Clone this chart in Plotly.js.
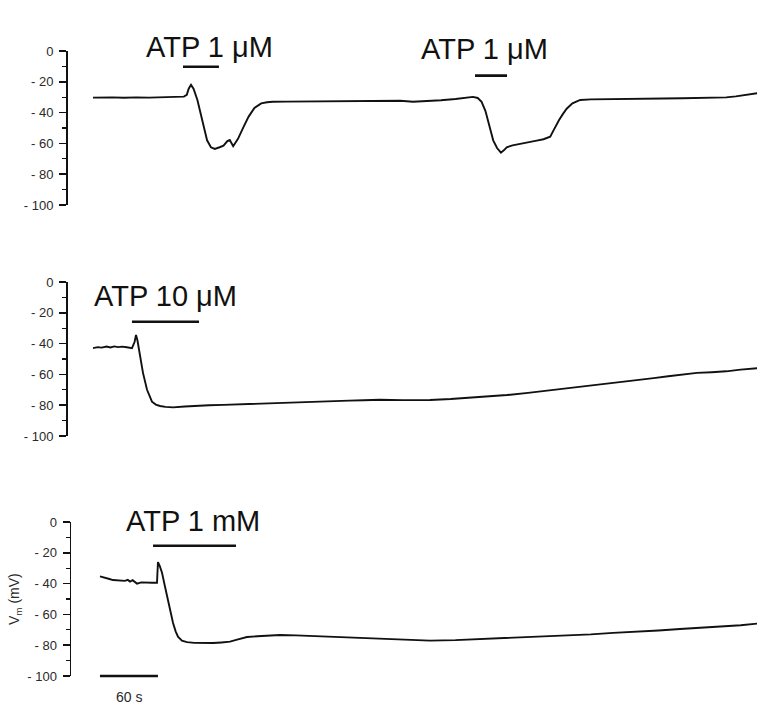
<!DOCTYPE html>
<html>
<head>
<meta charset="utf-8">
<script src="https://cdn.plot.ly/plotly-3.0.1.min.js"></script>
<style>html,body{margin:0;padding:0;background:#fff;}#chart{width:757px;height:708px;}</style>
</head>
<body>
<div id="chart"></div>
<script>
// Time in seconds, membrane potential in mV
var t1 = [0, 10, 20, 32, 45, 58, 70, 82, 94, 97, 99, 101.4, 104, 108, 113, 118, 122, 126, 131, 135, 139, 141.5, 145, 150, 156, 161, 167, 174, 180, 186, 200, 215, 230, 245, 260, 275, 290, 305, 318, 331, 345, 360, 375, 386, 393, 398, 402, 406, 410, 414, 418, 422, 425, 428, 434, 441, 450, 459, 466, 473, 476, 479, 482, 486, 490, 496, 504, 515, 530, 545, 560, 573, 590, 610, 625, 641, 655, 665, 675, 687];
var v1 = [-30.3, -30.0, -30.1, -30.4, -30.1, -30.3, -30.0, -29.8, -29.6, -28.5, -24.5, -22, -24.5, -31.8, -45, -58, -62.5, -63.6, -62.5, -61.5, -58.5, -57.8, -61.8, -57, -49, -42.6, -37, -34, -33.3, -33, -32.9, -32.8, -32.6, -32.7, -32.4, -32.3, -32.1, -32.0, -32.3, -33, -32.6, -32.0, -31.2, -30.5, -29.8, -30.5, -33, -39, -48, -58, -63, -66, -64.5, -62.5, -61.3, -60.3, -59.5, -58.2, -57.3, -55.6, -52, -48, -45, -41, -37.5, -34, -31.8, -31.4, -31.2, -31.0, -30.9, -30.6, -30.8, -30.7, -30.5, -30.5, -30.1, -29.5, -28.6, -27.4];

var t2 = [0, 5, 9, 14, 18, 22, 26, 30, 35, 40.3, 43, 44.5, 46, 47.6, 51.7, 55.9, 61, 65, 69.3, 75, 82.8, 95, 107.6, 120, 135, 159.3, 180, 195, 210, 227.6, 245, 265, 280, 296.9, 320, 348.6, 370, 390, 410, 428.3, 450, 470, 487, 503.8, 520, 535, 550, 565.9, 580, 595, 610, 624.8, 640, 655, 670, 687];
var v2 = [-42.9, -42.3, -42.6, -41.9, -42.5, -41.8, -42.3, -42.0, -42.4, -43, -39, -34.4, -38, -44, -59, -70, -77.7, -79.6, -80.5, -81.1, -81.4, -80.8, -80.3, -80.0, -79.8, -79.2, -78.9, -78.5, -78.1, -77.7, -77.4, -77.0, -76.8, -76.5, -76.7, -76.6, -76.0, -75.2, -74.4, -73.4, -72.0, -70.6, -69.3, -68, -67.0, -65.9, -64.6, -63.6, -62.4, -61.2, -60.2, -59, -58.6, -58.0, -56.9, -56];

var t3 = [7.2, 11, 14, 17, 20.7, 24, 27, 30, 33, 36, 38.3, 41, 45.5, 50, 56, 61, 66.2, 67.2, 69, 71.4, 74.5, 77.6, 80, 82.8, 85.5, 87.9, 92, 97.2, 105, 115, 124.1, 133, 141.7, 150, 159.3, 170, 182, 193.4, 210, 227.6, 245, 262.8, 280, 296.9, 320, 348.6, 375, 400.3, 430, 450, 469.7, 490, 515, 538, 560, 585, 607.2, 630, 650, 670, 687];
var v3 = [-35.3, -35.8, -36.5, -37.0, -37.7, -37.9, -37.8, -38.3, -38.2, -37.6, -38.7, -37.8, -40, -39.2, -39.5, -39.4, -39.4, -26, -28.5, -33, -42, -50.6, -58.5, -65.6, -71, -74.5, -77, -78, -78.5, -78.8, -78.6, -78.2, -77.7, -76.2, -74.7, -74.2, -73.7, -73.4, -73.6, -74, -74.6, -75, -75.3, -75.5, -76.2, -77, -76.7, -76, -75.4, -75.0, -74.5, -73.9, -73.0, -72, -71.4, -70.5, -69.5, -68.7, -67.9, -67.0, -66];

// ATP application bars [start, end] in s, drawn at a level in mV
var bar1a = {t: [93.1, 130.3], v: -10.2};
var bar1b = {t: [395.2, 428.3], v: -16};
var bar2 = {t: [40.3, 109.7], v: -25.8};
var bar3 = {t: [62.1, 147.9], v: -15.4};
var scaleBar = {t: [7.2, 67.2], v: -100};

var labels = ["ATP 1 μM", "ATP 1 μM", "ATP 10 μM", "ATP 1 mM"];
var labelT = [121, 405.5, 74.5, 103.5];

var yTickVals = [0, -20, -40, -60, -80, -100];
var yTickText = ["0", "- 20", "- 40", "- 60", "- 80", "- 100"];
var yMinorVals = [-10, -30, -50, -70, -90];

var lineStyle = {color: '#111', width: 1.9};
var barStyle = {color: '#111', width: 2.6};

function lineTrace(x, y, xa, ya, st) {
  return {x: x, y: y, xaxis: xa, yaxis: ya, mode: 'lines', line: st, hoverinfo: 'skip', cliponaxis: false};
}

var data = [
  lineTrace(t1, v1, 'x', 'y', lineStyle),
  lineTrace(bar1a.t, [bar1a.v, bar1a.v], 'x', 'y', barStyle),
  lineTrace(bar1b.t, [bar1b.v, bar1b.v], 'x', 'y', barStyle),
  lineTrace(t2, v2, 'x2', 'y2', lineStyle),
  lineTrace(bar2.t, [bar2.v, bar2.v], 'x2', 'y2', barStyle),
  lineTrace(t3, v3, 'x3', 'y3', lineStyle),
  lineTrace(bar3.t, [bar3.v, bar3.v], 'x3', 'y3', barStyle),
  lineTrace(scaleBar.t, [scaleBar.v, scaleBar.v], 'x3', 'y4', barStyle)
];

function xax(domLeftPx) {
  var left = domLeftPx / 757;
  var r0 = (domLeftPx - 93) * 60 / 58;
  return {domain: [left, 1], range: [r0, 686.9], visible: false, fixedrange: true};
}
function yax(topPx, botPx, anchor) {
  return {
    domain: [1 - botPx / 708, 1 - topPx / 708], range: [-100, 0], anchor: anchor,
    showline: true, linecolor: '#111', linewidth: 1.5,
    ticks: 'outside', ticklen: 7, tickwidth: 1.5, tickcolor: '#111',
    tickmode: 'array', tickvals: yTickVals, ticktext: yTickText,
    minor: {tickmode: 'array', tickvals: yMinorVals, ticks: 'outside', ticklen: 4, tickwidth: 1.2, tickcolor: '#111'},
    tickfont: {family: 'Liberation Sans, Arial, sans-serif', size: 13, color: '#2a2a2a'},
    ticklabelstandoff: 3,
    showgrid: false, zeroline: false, fixedrange: true
  };
}
// invisible twin of the bottom y axis, extended downward so the scale bar at -100 mV is not clipped
var extPx = 12;
var yaxis4 = {
  domain: [1 - (676 + extPx) / 708, 1 - 522 / 708],
  range: [-100 - extPx * 100 / 154, 0],
  anchor: 'x3', visible: false, fixedrange: true
};

var annFont = {family: 'Liberation Sans, Arial, sans-serif', size: 29, color: '#111'};
var small = {family: 'Liberation Sans, Arial, sans-serif', size: 14, color: '#2a2a2a'};
var annotations = [
  {x: labelT[0], xref: 'x', y: 1 - 47 / 708, yref: 'paper', xanchor: 'center', yanchor: 'middle', text: labels[0], showarrow: false, font: annFont},
  {x: labelT[1], xref: 'x', y: 1 - 49 / 708, yref: 'paper', xanchor: 'center', yanchor: 'middle', text: labels[1], showarrow: false, font: annFont},
  {x: labelT[2], xref: 'x2', y: 1 - 296 / 708, yref: 'paper', xanchor: 'center', yanchor: 'middle', text: labels[2], showarrow: false, font: annFont},
  {x: labelT[3], xref: 'x3', y: 1 - 521 / 708, yref: 'paper', xanchor: 'center', yanchor: 'middle', text: labels[3], showarrow: false, font: annFont},
  {x: 15 / 757, xref: 'paper', y: 1 - 599 / 708, yref: 'paper', xanchor: 'center', yanchor: 'middle', text: 'V<sub>m</sub> (mV)', textangle: -90, showarrow: false, font: small},
  {x: 37.2, xref: 'x3', y: 1 - 697 / 708, yref: 'paper', xanchor: 'center', yanchor: 'middle', text: '60 s', showarrow: false, font: small}
];

var layout = {
  width: 757, height: 708,
  margin: {l: 0, r: 0, t: 0, b: 0},
  paper_bgcolor: '#fff', plot_bgcolor: 'rgba(0,0,0,0)',
  showlegend: false,
  xaxis: xax(67.5), xaxis2: xax(67.5), xaxis3: xax(71),
  yaxis: yax(51, 205, 'x'), yaxis2: yax(282, 436, 'x2'), yaxis3: yax(522, 676, 'x3'),
  yaxis4: yaxis4,
  annotations: annotations
};

Plotly.newPlot('chart', data, layout, {staticPlot: true, displayModeBar: false});
</script>
</body>
</html>
